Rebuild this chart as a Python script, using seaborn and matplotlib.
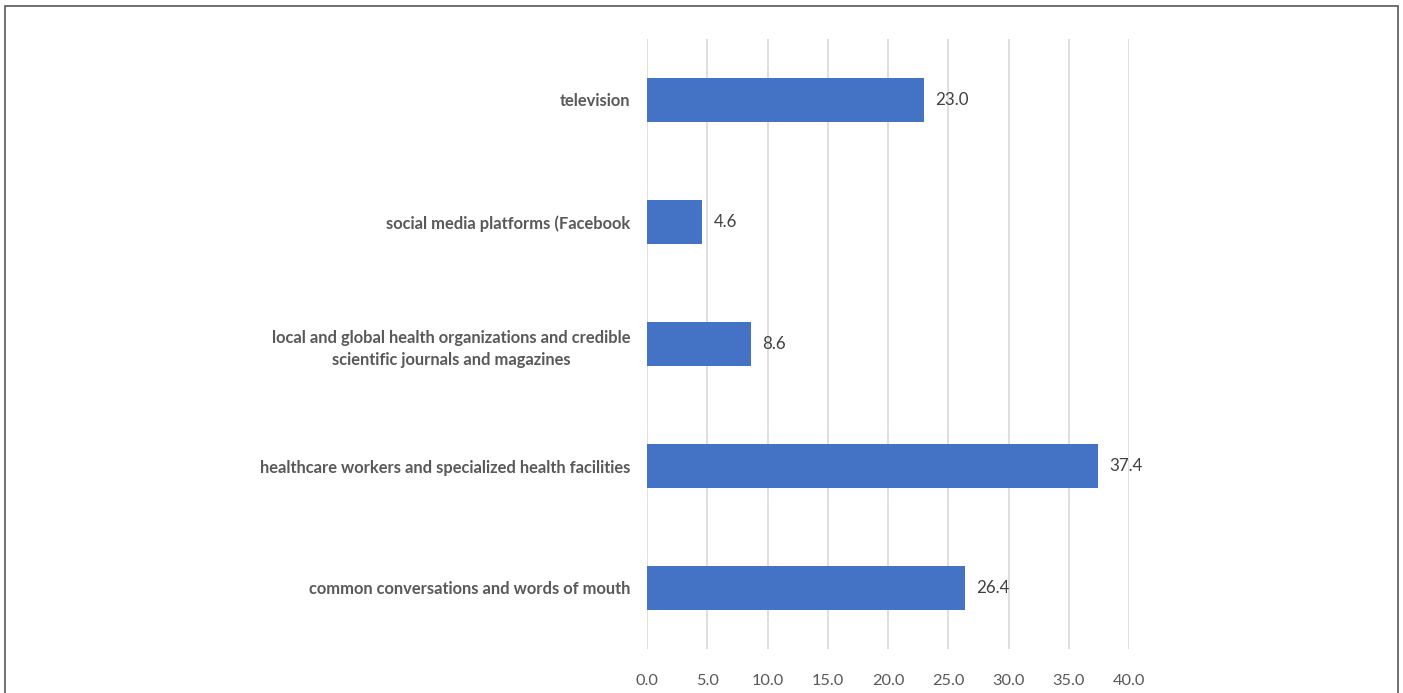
import matplotlib
matplotlib.use("Agg")
import matplotlib.pyplot as plt
import seaborn as sns
import pandas as pd
from matplotlib.patches import Rectangle

categories = [
    "television",
    "social media platforms (Facebook",
    "local and global health organizations and credible\nscientific journals and magazines",
    "healthcare workers and specialized health facilities",
    "common conversations and words of mouth",
]
values = [23.0, 4.6, 8.6, 37.4, 26.4]
ticks = [0, 5, 10, 15, 20, 25, 30, 35, 40]

df = pd.DataFrame({"source": categories, "percent": values})

sns.set_theme(style="white")
plt.rcParams["font.family"] = ["Lato", "DejaVu Sans"]

W, H = 1403, 693
fig = plt.figure(figsize=(W / 100, H / 100), dpi=100)
ax = fig.add_axes([647 / W, 1 - 649 / H, (1129 - 647) / W, (649 - 39) / H])

sns.barplot(data=df, x="percent", y="source", color="#4472C4", width=0.36,
            saturation=1, linewidth=0, ax=ax, zorder=3)

ax.set_xlim(0, 40)
ax.set_ylim(4.5, -0.5)
ax.set_xticks(ticks)
ax.set_xticklabels([f"{t:.1f}" for t in ticks], fontsize=11.8, color="#595959")
ax.tick_params(axis="x", length=0, pad=18)
ax.tick_params(axis="y", length=0, pad=12)
for lbl in ax.get_yticklabels():
    lbl.set_fontweight("bold")
    lbl.set_fontsize(11.9)
    lbl.set_color("#595959")
    lbl.set_horizontalalignment("right")
    lbl.set_multialignment("center")
    lbl.set_linespacing(1.5)
ax.set_xlabel("")
ax.set_ylabel("")
ax.grid(axis="x", color="#D9D9D9", linewidth=1.2, zorder=0)
for s in ax.spines.values():
    s.set_visible(False)

for i, v in enumerate(values):
    ax.text(v + 0.95, i, f"{v:.1f}", va="center", ha="left",
            fontsize=12.2, color="#404040")

# outer frame of the chart area
fig.patches.append(Rectangle((5 / W, -0.05), (1398 - 5) / W, 1.05 - 6 / H,
                             transform=fig.transFigure, fill=False,
                             edgecolor="#595959", linewidth=1.2))

fig.savefig("out.png", dpi=100)
